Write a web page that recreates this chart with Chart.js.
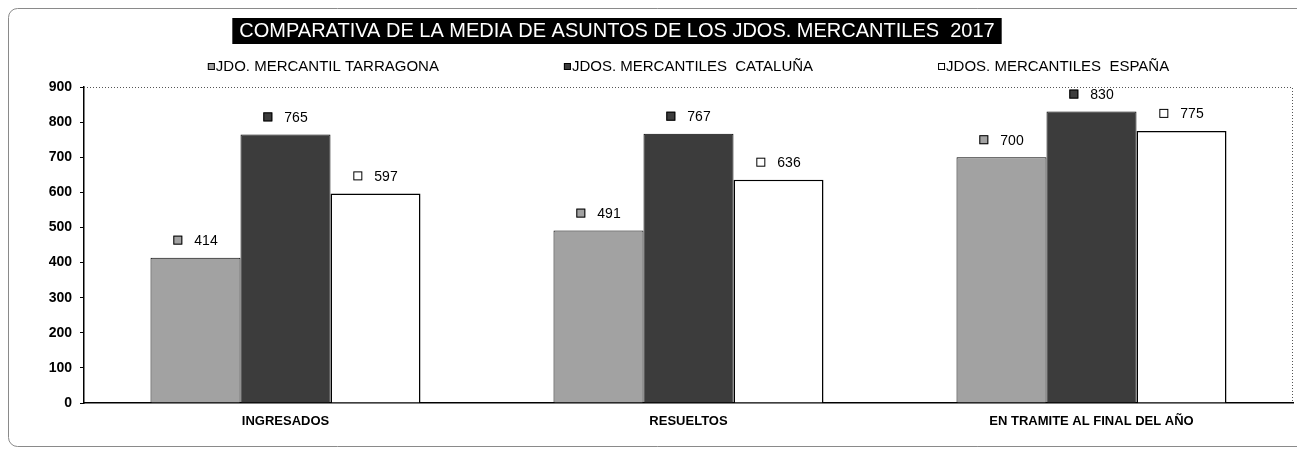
<!DOCTYPE html>
<html>
<head>
<meta charset="utf-8">
<script src="https://cdn.jsdelivr.net/npm/chart.js@4/dist/chart.umd.min.js"></script>
<style>
	html, body { margin: 0; padding: 0; background: #fff; }
	#wrap { width: 1297px; height: 450px; position: relative; }
</style>
</head>
<body>
<div id="wrap"><canvas id="chartBar"></canvas></div>
<script>
'use strict';
var titleText = 'COMPARATIVA DE LA MEDIA DE ASUNTOS DE LOS JDOS. MERCANTILES  2017';
var categories = ['INGRESADOS', 'RESUELTOS', 'EN TRAMITE AL FINAL DEL AÑO'];
var seriesNames = ['JDO. MERCANTIL TARRAGONA', 'JDOS. MERCANTILES  CATALUÑA', 'JDOS. MERCANTILES  ESPAÑA'];
var tarragona = [414, 491, 700];
var cataluna = [765, 767, 830];
var espana = [597, 636, 775];
var yTicks = [0, 100, 200, 300, 400, 500, 600, 700, 800, 900];

var fills = ['#a2a2a2', '#3c3c3c', '#ffffff'];
var FONT = '"Liberation Sans", Arial, sans-serif';

// title box, legend row, value labels and frame
var decor = {
	id: 'decor',
	beforeDraw: function(chart) {
		var c = chart.ctx;
		c.save();
		c.strokeStyle = '#8a8a8a';
		c.lineWidth = 1;
		c.beginPath();
		c.roundRect(8.5, 8.5, 1300, 438, 9);
		c.stroke();
		c.restore();
	},
	afterDatasetsDraw: function(chart) {
		var c = chart.ctx;
		var a = chart.chartArea;
		c.save();
		// dotted plot frame
		c.strokeStyle = '#555';
		c.lineWidth = 1;
		c.setLineDash([1, 2]);
		c.beginPath();
		c.moveTo(a.left, a.top + 0.5);
		c.lineTo(a.right - 0.5, a.top + 0.5);
		c.lineTo(a.right - 0.5, a.bottom);
		c.stroke();
		c.setLineDash([]);

		// title
		c.font = '20px ' + FONT;
		var tw = c.measureText(titleText).width;
		var tx = 617;
		c.fillStyle = '#000';
		c.fillRect(tx - tw / 2 - 7, 18, tw + 14, 26);
		c.fillStyle = '#fff';
		c.textAlign = 'center';
		c.textBaseline = 'middle';
		c.fillText(titleText, tx, 31.5);

		// legend, centred over the plot area
		c.font = '15px ' + FONT;
		c.textAlign = 'left';
		var gap = 125;
		var widths = chart.data.datasets.map(function(ds) {
			return 8 + c.measureText(ds.label).width;
		});
		var total = widths.reduce(function(s, w) { return s + w; }, 0) + gap * (widths.length - 1);
		var x = (a.left + a.right) / 2 - total / 2;
		chart.data.datasets.forEach(function(ds, i) {
			c.fillStyle = ds.backgroundColor;
			c.strokeStyle = '#000';
			c.fillRect(x, 63, 7, 7);
			c.strokeRect(x + 0.5, 63.5, 6, 6);
			c.fillStyle = '#000';
			c.fillText(ds.label, x + 8, 67);
			x += widths[i] + gap;
		});

		// value labels
		c.font = '14px ' + FONT;
		chart.data.datasets.forEach(function(ds, i) {
			chart.getDatasetMeta(i).data.forEach(function(bar, j) {
				var txt = String(ds.data[j]);
				var w = c.measureText(txt).width + 21;
				var x0 = bar.x - w / 2;
				var y = bar.y - 17;
				c.fillStyle = ds.backgroundColor;
				c.strokeStyle = '#000';
				c.fillRect(x0, y - 5, 9, 9);
				c.strokeRect(x0 + 0.5, y - 4.5, 8, 8);
				c.fillStyle = '#000';
				c.textAlign = 'left';
				c.fillText(txt, x0 + 21, y + 0.5);
			});
		});
		c.restore();
	}
};

var ctx = document.getElementById('chartBar');
new Chart(ctx, {
	type: 'bar',
	data: {
		labels: categories,
		datasets: [{
			label: seriesNames[0],
			data: tarragona,
			backgroundColor: fills[0],
			borderColor: '#000',
			borderWidth: 1
		}, {
			label: seriesNames[1],
			data: cataluna,
			backgroundColor: fills[1],
			borderColor: '#000',
			borderWidth: 1
		}, {
			label: seriesNames[2],
			data: espana,
			backgroundColor: fills[2],
			borderColor: '#000',
			borderWidth: 1.5
		}]
	},
	options: {
		maintainAspectRatio: false,
		responsive: true,
		animation: false,
		categoryPercentage: 0.67,
		barPercentage: 1.0,
		layout: {
			padding: { top: 87, left: 0, right: 4, bottom: 0 }
		},
		plugins: {
			legend: { display: false },
			title: { display: false },
			tooltip: { enabled: false }
		},
		scales: {
			x: {
				afterFit: function(s) { s.height = 47; },
				ticks: {
					color: '#000',
					padding: 3,
					font: { family: FONT, size: 13, weight: 'bold' }
				},
				grid: { display: false },
				border: { display: true, color: '#000', width: 1.5 }
			},
			y: {
				min: 0,
				max: 900,
				afterFit: function(s) { s.width = 84; },
				afterBuildTicks: function(s) {
					s.ticks = yTicks.map(function(v) { return { value: v }; });
				},
				ticks: {
					color: '#000',
					padding: 8,
					font: { family: FONT, size: 14, weight: 'bold' }
				},
				grid: {
					drawOnChartArea: false,
					drawTicks: true,
					tickLength: 4,
					color: '#000'
				},
				border: { display: true, color: '#000', width: 1.5 }
			}
		}
	},
	plugins: [decor]
});
</script>
</body>
</html>
